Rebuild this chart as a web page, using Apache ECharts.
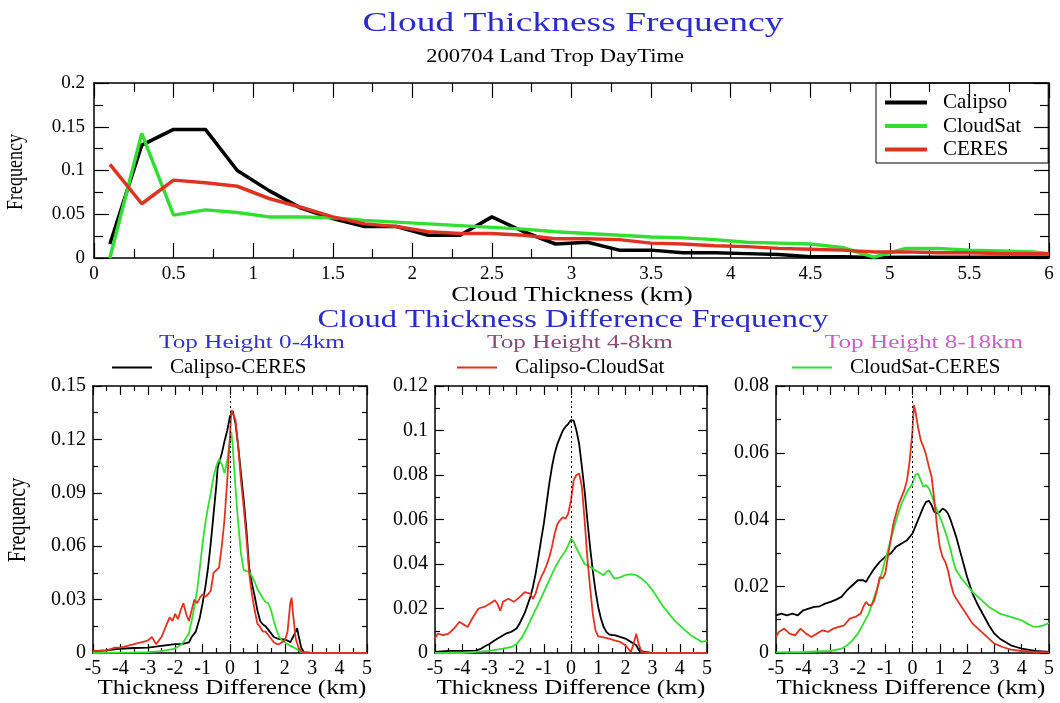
<!DOCTYPE html>
<html><head><meta charset="utf-8">
<script src="https://cdn.jsdelivr.net/npm/echarts@6/dist/echarts.min.js"></script>
<style>html,body{margin:0;padding:0;background:#fff}#wrap{position:relative;width:1060px;height:703px;background:#fff}</style>
</head><body><div id="wrap"></div>
<script>
// ---------- Top chart data ----------
const thicknessKm = [0.1,0.3,0.5,0.7,0.9,1.1,1.3,1.5,1.7,1.9,2.1,2.3,2.5,2.7,2.9,3.1,3.3,3.5,3.7,3.9,4.1,4.3,4.5,4.7,4.9,5.1,5.3,5.5,5.7,5.9,6.0];
const calipsoFreq = [0.016,0.129,0.147,0.147,0.100,0.077,0.057,0.045,0.036,0.036,0.026,0.026,0.047,0.030,0.016,0.018,0.009,0.009,0.006,0.006,0.005,0.004,0.0015,0.0015,0.0005,0.001,0.001,0.001,0.001,0.001,0.001];
const cloudsatFreq = [0.0,0.1425,0.049,0.055,0.052,0.047,0.047,0.046,0.043,0.041,0.039,0.037,0.035,0.033,0.030,0.028,0.026,0.024,0.023,0.021,0.018,0.017,0.016,0.012,0.001,0.011,0.011,0.009,0.008,0.007,0.005];
const ceresFreq = [0.107,0.062,0.089,0.086,0.082,0.068,0.058,0.047,0.039,0.036,0.030,0.028,0.028,0.026,0.022,0.022,0.021,0.017,0.016,0.014,0.013,0.011,0.010,0.009,0.007,0.007,0.006,0.006,0.005,0.005,0.005];

// ---------- Bottom panels: [thickness difference km, frequency] ----------
// Top Height 0-4km
const lowCalipsoCeres = [[-5,0.001],[-4.5,0.0015],[-4,0.0024],[-3.5,0.0028],[-3,0.003],[-2.5,0.004],[-2,0.005],[-1.75,0.005],[-1.5,0.006],[-1.4,0.009],[-1.25,0.012],[-1.1,0.02],[-1,0.028],[-0.9,0.037],[-0.8,0.048],[-0.7,0.062],[-0.6,0.078],[-0.5,0.094],[-0.45,0.104],[-0.4,0.107],[-0.3,0.112],[-0.2,0.119],[-0.1,0.125],[0,0.133],[0.1,0.136],[0.2,0.129],[0.3,0.116],[0.4,0.101],[0.5,0.086],[0.6,0.069],[0.7,0.048],[0.8,0.039],[0.9,0.032],[1,0.024],[1.1,0.018],[1.2,0.016],[1.3,0.015],[1.4,0.013],[1.5,0.011],[1.6,0.009],[1.75,0.008],[2,0.0075],[2.1,0.007],[2.2,0.006],[2.3,0.009],[2.4,0.012],[2.45,0.014],[2.5,0.01],[2.6,0.003],[2.7,0.0005],[3,0],[4,0],[5,0]];
const lowCalipsoCloudSat = [[-5,0.001],[-4.5,0.0015],[-4.2,0.003],[-4,0.003],[-3.75,0.004],[-3.5,0.005],[-3.25,0.006],[-3,0.007],[-2.85,0.009],[-2.7,0.005],[-2.5,0.009],[-2.3,0.0165],[-2.2,0.02],[-2.1,0.018],[-2,0.022],[-1.9,0.019],[-1.8,0.024],[-1.7,0.028],[-1.6,0.022],[-1.5,0.018],[-1.4,0.024],[-1.3,0.03],[-1.2,0.028],[-1.1,0.031],[-1,0.033],[-0.9,0.0315],[-0.8,0.033],[-0.7,0.035],[-0.6,0.045],[-0.5,0.0465],[-0.4,0.048],[-0.3,0.06],[-0.2,0.075],[-0.1,0.097],[0,0.122],[0.05,0.1365],[0.1,0.137],[0.2,0.131],[0.3,0.116],[0.4,0.097],[0.5,0.082],[0.6,0.065],[0.7,0.045],[0.8,0.033],[0.9,0.024],[1,0.0165],[1.1,0.0146],[1.2,0.012],[1.3,0.012],[1.4,0.01],[1.5,0.008],[1.6,0.006],[1.7,0.005],[1.8,0.005],[1.9,0.006],[2,0.007],[2.1,0.012],[2.2,0.028],[2.25,0.031],[2.3,0.022],[2.4,0.008],[2.5,0.003],[2.6,0.001],[2.7,0],[5,0]];
const lowCloudSatCeres = [[-5,0],[-3.5,0.0003],[-3,0.0005],[-2.5,0.001],[-2,0.0025],[-1.75,0.005],[-1.5,0.011],[-1.4,0.018],[-1.3,0.026],[-1.2,0.035],[-1.1,0.048],[-1,0.0615],[-0.9,0.073],[-0.8,0.082],[-0.7,0.09],[-0.6,0.099],[-0.5,0.105],[-0.4,0.109],[-0.3,0.106],[-0.2,0.101],[-0.1,0.108],[0,0.12],[0.05,0.124],[0.1,0.116],[0.2,0.093],[0.3,0.073],[0.4,0.056],[0.5,0.0465],[0.6,0.046],[0.7,0.0456],[0.8,0.043],[0.9,0.04],[1,0.036],[1.1,0.0334],[1.2,0.0306],[1.3,0.0287],[1.4,0.0278],[1.5,0.024],[1.6,0.018],[1.7,0.0128],[1.8,0.009],[1.9,0.007],[2,0.006],[2.2,0.004],[2.4,0.0025],[2.6,0.0005],[2.8,0],[5,0]];
// Top Height 4-8km
const midCalipsoCeres = [[-5,0.0005],[-4.5,0.001],[-4,0.001],[-3.5,0.001],[-3.3,0.002],[-3.1,0.0035],[-3,0.004],[-2.8,0.0057],[-2.6,0.0072],[-2.4,0.0087],[-2.2,0.0095],[-2,0.011],[-1.9,0.013],[-1.8,0.0155],[-1.7,0.018],[-1.6,0.0215],[-1.5,0.025],[-1.4,0.0297],[-1.3,0.0357],[-1.2,0.043],[-1.1,0.0507],[-1,0.058],[-0.9,0.067],[-0.8,0.076],[-0.7,0.0837],[-0.6,0.0897],[-0.5,0.094],[-0.4,0.097],[-0.3,0.1],[-0.2,0.1017],[-0.1,0.103],[0,0.1047],[0.05,0.1053],[0.1,0.1044],[0.2,0.1],[0.3,0.094],[0.4,0.0837],[0.5,0.073],[0.6,0.06],[0.7,0.0477],[0.8,0.037],[0.9,0.028],[1,0.0207],[1.1,0.0155],[1.2,0.0117],[1.3,0.0095],[1.4,0.0084],[1.5,0.008],[1.6,0.008],[1.8,0.0072],[2,0.0065],[2.2,0.005],[2.4,0.0035],[2.5,0.0012],[2.7,0.0005],[3,0],[5,0]];
const midCalipsoCloudSat = [[-5,0.0065],[-4.9,0.0087],[-4.7,0.008],[-4.5,0.0087],[-4.3,0.011],[-4.1,0.014],[-4,0.0132],[-3.8,0.0117],[-3.6,0.0162],[-3.4,0.02],[-3.2,0.0207],[-3,0.022],[-2.8,0.0237],[-2.7,0.022],[-2.6,0.019],[-2.5,0.023],[-2.3,0.0244],[-2.1,0.023],[-1.9,0.025],[-1.7,0.0274],[-1.5,0.0267],[-1.4,0.0244],[-1.3,0.0267],[-1.2,0.031],[-1.1,0.034],[-1,0.0364],[-0.9,0.0394],[-0.8,0.043],[-0.7,0.0477],[-0.6,0.0537],[-0.5,0.058],[-0.4,0.0597],[-0.3,0.061],[-0.2,0.0604],[-0.1,0.0627],[0,0.0687],[0.1,0.0777],[0.2,0.08],[0.3,0.0807],[0.4,0.0747],[0.5,0.0597],[0.6,0.043],[0.7,0.0297],[0.8,0.0177],[0.9,0.0102],[1,0.0075],[1.2,0.007],[1.4,0.0065],[1.6,0.0057],[1.8,0.005],[2,0.0035],[2.1,0.002],[2.2,0.0005],[2.3,0.004],[2.4,0.0087],[2.5,0.0035],[2.6,0.0005],[2.8,0],[5,0]];
const midCloudSatCeres = [[-5,0],[-4,0],[-3.5,0.0005],[-3,0.001],[-2.5,0.002],[-2.2,0.0027],[-2,0.004],[-1.8,0.007],[-1.6,0.0117],[-1.4,0.017],[-1.2,0.022],[-1,0.0274],[-0.8,0.0327],[-0.6,0.038],[-0.4,0.0424],[-0.2,0.046],[-0.1,0.0484],[0,0.0514],[0.1,0.05],[0.2,0.047],[0.3,0.0447],[0.4,0.0424],[0.5,0.04],[0.6,0.0394],[0.7,0.0387],[0.8,0.038],[0.9,0.0372],[1,0.0364],[1.1,0.0357],[1.2,0.035],[1.3,0.0364],[1.4,0.0372],[1.5,0.035],[1.6,0.0334],[1.8,0.034],[2,0.035],[2.2,0.0354],[2.4,0.035],[2.6,0.0334],[2.8,0.0312],[3,0.0282],[3.2,0.0244],[3.4,0.0207],[3.6,0.0177],[3.8,0.0147],[4,0.0124],[4.2,0.0102],[4.4,0.008],[4.6,0.0065],[4.8,0.005],[5,0.0055]];
// Top Height 8-18km
const highCalipsoCeres = [[-5,0.0113],[-4.8,0.0118],[-4.6,0.0113],[-4.4,0.0118],[-4.2,0.0113],[-4,0.0128],[-3.8,0.0133],[-3.6,0.0138],[-3.4,0.014],[-3.2,0.0148],[-3,0.0153],[-2.8,0.016],[-2.6,0.0168],[-2.4,0.0188],[-2.2,0.0203],[-2,0.0218],[-1.8,0.0218],[-1.7,0.0213],[-1.6,0.0228],[-1.4,0.0253],[-1.2,0.0273],[-1,0.0288],[-0.8,0.0298],[-0.6,0.0318],[-0.4,0.0328],[-0.2,0.0338],[0,0.0358],[0.2,0.0398],[0.4,0.0438],[0.5,0.0453],[0.6,0.0456],[0.7,0.0443],[0.8,0.0423],[0.9,0.0418],[1,0.0423],[1.1,0.0433],[1.2,0.0428],[1.3,0.0418],[1.4,0.0398],[1.5,0.0373],[1.6,0.0348],[1.7,0.0318],[1.8,0.0288],[1.9,0.0258],[2,0.0228],[2.2,0.0178],[2.4,0.0143],[2.6,0.0113],[2.8,0.0083],[3,0.0058],[3.2,0.0043],[3.4,0.0033],[3.6,0.0023],[3.8,0.0018],[4,0.0013],[4.5,0.0006],[5,0.0003]];
const highCalipsoCloudSat = [[-5,0.0048],[-4.9,0.0063],[-4.7,0.0073],[-4.5,0.0058],[-4.3,0.0053],[-4.1,0.0073],[-3.9,0.0058],[-3.7,0.0048],[-3.5,0.0058],[-3.3,0.0068],[-3.1,0.0063],[-2.9,0.0073],[-2.7,0.0078],[-2.5,0.0083],[-2.3,0.0103],[-2.1,0.0108],[-1.9,0.0118],[-1.8,0.0138],[-1.7,0.0153],[-1.6,0.0143],[-1.5,0.0143],[-1.4,0.0158],[-1.3,0.0188],[-1.2,0.0228],[-1.1,0.0223],[-1,0.0238],[-0.9,0.0288],[-0.8,0.0338],[-0.7,0.0388],[-0.6,0.0418],[-0.5,0.0448],[-0.4,0.0468],[-0.3,0.0488],[-0.2,0.0518],[-0.1,0.0578],[0,0.0668],[0.05,0.0743],[0.1,0.0728],[0.2,0.0678],[0.3,0.0638],[0.4,0.0618],[0.5,0.0593],[0.6,0.0558],[0.7,0.0528],[0.8,0.0458],[0.9,0.0378],[1,0.0318],[1.1,0.0288],[1.2,0.0273],[1.3,0.0248],[1.4,0.0208],[1.5,0.0178],[1.6,0.0163],[1.8,0.0138],[2,0.0113],[2.2,0.0088],[2.4,0.0073],[2.6,0.0058],[2.8,0.0043],[3,0.0028],[3.3,0.0018],[3.6,0.001],[4,0.0006],[4.5,0.0003],[5,0.0002]];
const highCloudSatCeres = [[-5,0.0002],[-4,0.0003],[-3,0.0006],[-2.6,0.0013],[-2.4,0.0023],[-2.2,0.0038],[-2,0.0058],[-1.8,0.0088],[-1.6,0.0118],[-1.4,0.0168],[-1.2,0.0218],[-1,0.0278],[-0.8,0.0338],[-0.6,0.0398],[-0.4,0.0448],[-0.2,0.0483],[0,0.0508],[0.1,0.0533],[0.2,0.0538],[0.3,0.0518],[0.4,0.0498],[0.5,0.0503],[0.6,0.0493],[0.7,0.0473],[0.8,0.0448],[0.9,0.0428],[1,0.0408],[1.1,0.0388],[1.2,0.0363],[1.3,0.0338],[1.4,0.0308],[1.5,0.0273],[1.6,0.0248],[1.8,0.0223],[2,0.0203],[2.2,0.0183],[2.4,0.0168],[2.6,0.0153],[2.8,0.0138],[3,0.0128],[3.2,0.0118],[3.4,0.0113],[3.6,0.0108],[3.8,0.0103],[4,0.0098],[4.2,0.0088],[4.4,0.008],[4.6,0.0078],[4.8,0.0083],[5,0.009]];

// ---------- Texts and ranges ----------
const topSeriesNames = ['Calipso','CloudSat','CERES'];
const diffSeriesNames = ['Calipso-CERES','Calipso-CloudSat','CloudSat-CERES'];
const panelTitles = ['Top Height 0-4km','Top Height 4-8km','Top Height 8-18km'];
const panelYMax = [0.15, 0.12, 0.08];
const panelYInterval = [0.03, 0.02, 0.02];

const SERIF = '"Liberation Serif", "Times New Roman", serif';
const BLACK = '#000000', GREEN = '#33dd33', RED = '#dd3322';
const colors = [BLACK, GREEN, RED];
const diffColors = [BLACK, RED, GREEN];
const BLUE = '#2b2bc9';

const grids = [
  {left: 94, top: 83, width: 955, height: 175},
  {left: 93, top: 386, width: 274, height: 267},
  {left: 435, top: 386, width: 272, height: 267},
  {left: 776, top: 386, width: 273, height: 267}
];

function mkAxis(pos, min, max, interval, showLabel, fs, tl, ml, margin) {
  return {
    type: 'value', gridIndex: 0, position: pos, min: min, max: max, interval: interval,
    splitLine: {show: false}, minorSplitLine: {show: false},
    axisLine: {show: true, onZero: false, lineStyle: {color: '#000', width: 1.5}},
    axisTick: {show: true, inside: true, length: tl, lineStyle: {color: '#000', width: 1.2}},
    minorTick: {show: true, splitNumber: 2, length: ml, lineStyle: {color: '#000', width: 1.2}},
    axisLabel: showLabel ? {show: true, color: '#000', fontFamily: SERIF, fontSize: fs, margin: margin} : {show: false}
  };
}
function axesFor(xmin, xmax, xint, ymax, yint, fs, tl, ml, xm, ym) {
  return {
    xAxis: [mkAxis('bottom', xmin, xmax, xint, true, fs, tl, ml, xm), mkAxis('top', xmin, xmax, xint, false, fs, tl, ml, xm)],
    yAxis: [mkAxis('left', 0, ymax, yint, true, fs, tl, ml, ym), mkAxis('right', 0, ymax, yint, false, fs, tl, ml, ym)]
  };
}

const legendText = {color: '#000', fontFamily: SERIF};
const legends = [
  {data: topSeriesNames, orient: 'vertical', left: 876, top: 83, icon: 'rect', itemWidth: 42, itemHeight: 4,
   itemGap: 2.5, padding: [9, 27, 3, 9], borderColor: '#000', borderWidth: 1, selectedMode: false,
   textStyle: Object.assign({fontSize: 21, padding: [0, 0, 0, 11]}, legendText)},
  {data: [diffSeriesNames[0]], left: 112, top: 357, icon: 'rect', itemWidth: 40, itemHeight: 2, padding: 0, selectedMode: false,
   textStyle: Object.assign({fontSize: 21, padding: [0, 0, 0, 13]}, legendText)},
  {data: [diffSeriesNames[1]], left: 457, top: 357, icon: 'rect', itemWidth: 40, itemHeight: 2, padding: 0, selectedMode: false,
   textStyle: Object.assign({fontSize: 21, padding: [0, 0, 0, 13]}, legendText)},
  {data: [diffSeriesNames[2]], left: 792, top: 357, icon: 'rect', itemWidth: 40, itemHeight: 2, padding: 0, selectedMode: false,
   textStyle: Object.assign({fontSize: 21, padding: [0, 0, 0, 13]}, legendText)}
];

function makeChart(option) {
  const d = document.createElement('div');
  d.style.cssText = 'position:absolute;left:0;top:0;width:1060px;height:703px;';
  document.getElementById('wrap').appendChild(d);
  const c = echarts.init(d, null, {renderer: 'canvas'});
  c.setOption(Object.assign({animation: false, backgroundColor: 'transparent'}, option));
  return c;
}

// Top chart
const pairs = (xs, ys) => xs.map((x, i) => [x, ys[i]]);
const topAxes = axesFor(0, 6, 0.5, 0.2, 0.05, 19, 15, 9, 7, 9);
makeChart({
  grid: [grids[0]],
  xAxis: topAxes.xAxis,
  yAxis: topAxes.yAxis,
  legend: [legends[0]],
  series: [calipsoFreq, cloudsatFreq, ceresFreq].map((ys, i) => ({
    type: 'line', name: topSeriesNames[i], xAxisIndex: 0, yAxisIndex: 0,
    data: pairs(thicknessKm, ys), symbol: 'none', color: colors[i],
    lineStyle: {width: 3.5, color: colors[i]}
  }))
});

// Bottom panels
const panels = [
  [lowCalipsoCeres, lowCalipsoCloudSat, lowCloudSatCeres],
  [midCalipsoCeres, midCalipsoCloudSat, midCloudSatCeres],
  [highCalipsoCeres, highCalipsoCloudSat, highCloudSatCeres]
];
const drawOrder = [0, 2, 1];
panels.forEach((sets, p) => {
  const ax = axesFor(-5, 5, 1, panelYMax[p], panelYInterval[p], 20, 9, 5, 6, 7);
  const ser = drawOrder.map((k, n) => {
    const s = {type: 'line', name: diffSeriesNames[k], xAxisIndex: 0, yAxisIndex: 0,
      data: sets[k], symbol: 'none', color: diffColors[k], lineStyle: {width: 1.8, color: diffColors[k]}};
    if (n === 0) {
      s.markLine = {silent: true, symbol: ['none', 'none'], label: {show: false},
        lineStyle: {color: '#000', type: [2, 3], width: 1}, data: [{xAxis: 0}]};
    }
    return s;
  });
  makeChart({grid: [grids[p + 1]], xAxis: ax.xAxis, yAxis: ax.yAxis, legend: [legends[p + 1]], series: ser});
});

// Titles and axis names
function txt(t, x, y, size, color, sx, extra) {
  return Object.assign({type: 'text', x: x, y: y, scaleX: sx, silent: true,
    style: {text: t, font: size + 'px ' + SERIF, fill: color, align: 'center', verticalAlign: 'middle'}}, extra || {});
}
makeChart({
  graphic: [
    txt('Cloud Thickness Frequency', 573, 24, 28, BLUE, 1.34),
    txt('200704 Land Trop DayTime', 555, 57, 18, '#000', 1.25),
    txt('Cloud Thickness (km)', 572, 296, 20, '#000', 1.35),
    txt('Cloud Thickness Difference Frequency', 573, 320, 25, BLUE, 1.3),
    txt(panelTitles[0], 252, 343, 18, '#3535cc', 1.4),
    txt(panelTitles[1], 580, 343, 18, '#8c4a70', 1.4),
    txt(panelTitles[2], 924, 343, 18, '#c860c8', 1.4),
    txt('Thickness Difference (km)', 232, 689, 20, '#000', 1.25),
    txt('Thickness Difference (km)', 571, 689, 20, '#000', 1.25),
    txt('Thickness Difference (km)', 911, 689, 20, '#000', 1.25),
    txt('Frequency', 16, 172, 18, '#000', 1, {rotation: Math.PI / 2, scaleY: 1.3}),
    txt('Frequency', 18, 520, 20, '#000', 1, {rotation: Math.PI / 2, scaleY: 1.3})
  ]
});
</script></body></html>
